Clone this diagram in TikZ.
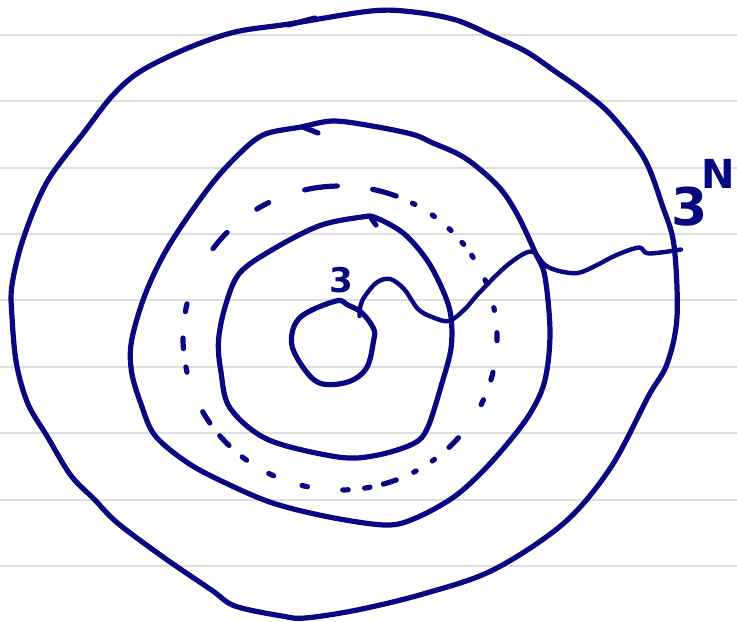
\documentclass[tikz,border=0pt]{standalone}
\usepackage{fontspec}
\setmainfont{DejaVu Sans}
\definecolor{ink}{RGB}{8,8,128}
\definecolor{rule}{RGB}{222,222,222}
\tikzset{
  pen/.style={draw=ink, line width=2.6pt, line cap=round, line join=round},
  thinpen/.style={draw=ink, line width=2.2pt, line cap=round, line join=round},
  ruleline/.style={draw=rule, line width=1pt},
  lab/.style={text=ink, font=\bfseries, inner sep=0pt}
}
\begin{document}
\begin{tikzpicture}[x=0.5pt, y=-0.5pt]
\useasboundingbox (0,0) rectangle (737,621);
\fill[white] (0,0) rectangle (737,621);
% ruled paper
\foreach \yy in {35,101,168,234,300,367,433,500,566}
  \draw[ruleline] (0,\yy) -- (737,\yy);
% outer ring
\draw[pen] plot[smooth cycle, tension=0.55] coordinates {
 (371,11) (289,24) (235,32) (188,48) (141,71) (113,95) (85,131) (47,182)
 (23.5,238) (12,285) (12,317) (16.5,364) (28,404) (47,436) (70.5,475)
 (94,499) (117.5,523) (164.5,558) (211.5,590) (235,606) (282,616) (305,618)
 (357,610) (423,594) (493,570) (564,523) (611,467) (648.5,396) (667,364)
 (677,317) (674,245.5) (662.5,206) (644,158) (611,115) (583,91) (554.5,71)
 (526,51.5) (493,36) (456,20) (413.5,12)};
\draw[pen] (288,25) -- (315,18);
% middle ring
\draw[pen] plot[smooth cycle, tension=0.55] coordinates {
 (333.6,121) (301,127) (263,135) (235,158) (207,190) (169,245.5) (145.7,293)
 (131.6,340.6) (131.6,372) (141,404) (155,435.6) (188,463) (225.6,483)
 (272.6,503) (329,517) (385,525) (413.5,519) (451,499) (479,475) (507.5,443.6)
 (531,412) (545,380) (550,332.7) (545,277) (535.7,253.5) (517,214) (498,186)
 (465,158) (432,142.6) (413.5,134.6) (376,126.7)};
\draw[pen] (303,127) -- (318,133);
% dashed ring
\foreach \a/\b in {91/103, 69/78, 61.5/62.5, 53/54, 45/46, 38/39,
  32/33, 21.5/22.5, 10.5/11.5, -1/2, -16/-13, -26/-24, -46/-41, -54/-53,
  -62/-61, -74/-69, -81/-79, -89/-87, -104/-102,
  -117/-115, -128.5/-126.5, -140/-135, -151/-146, -169/-167,
  -180/-176, 167/170, 136/144, 117/122}
  \draw[pen] plot[domain=\a:\b, samples=6, smooth]
    ({340+157*cos(\x)},{338-152*sin(\x)});
% inner ring
\draw[pen] plot[smooth cycle, tension=0.55] coordinates {
 (362,217) (319.5,225.7) (272.6,249.5) (239.7,273) (225.6,305) (218.5,340.6)
 (221,372) (230,408) (268,439.6) (338,457) (376,455.4) (413.5,443.6)
 (427.6,427.7) (441.7,384) (451,348.5) (451,317) (444,293) (427.6,261)
 (404,233.7) (376,217.8)};
\draw[pen] (371,218) -- (376,225);
% innermost circle
\draw[pen] plot[smooth cycle, tension=0.6] coordinates {
 (336,301) (300.8,316.8) (291.4,340.6) (300.8,364) (319.5,383) (347.7,382)
 (366.5,368) (373.6,340.6) (373.6,328.7) (362,312.9) (347.7,305)};
% wavy line
\draw[thinpen] plot[smooth, tension=0.55] coordinates {
 (359.5,316) (362,301) (376,283) (390,279) (404,289) (418,309) (432,317)
 (449,321) (465,309) (479,293) (507.5,265) (531,251.5) (545,265) (559,271)
 (578,273) (597,265) (615.6,255.4) (639,247.5) (648.5,253.5) (681,249.5)};
% labels
\node[lab, font=\bfseries\fontsize{17}{17}\selectfont] (l3) at (341,280) {3};
\node[lab, font=\bfseries\fontsize{26}{26}\selectfont] (l3n) at (690,207) {3};
\node[lab, font=\bfseries\fontsize{20}{20}\selectfont, anchor=east] (ln) at (735,174) {N};
\end{tikzpicture}
\end{document}
